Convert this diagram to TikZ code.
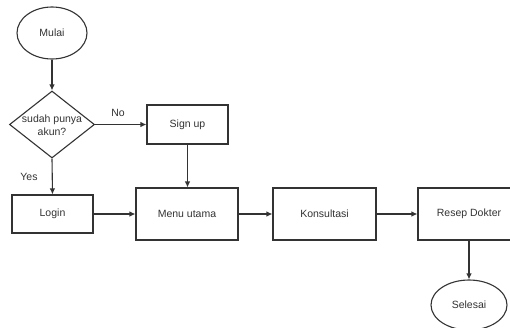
\documentclass[tikz,border=0pt]{standalone}
\usepackage{fontspec}
\setmainfont{Liberation Sans}
\usetikzlibrary{shapes.geometric,arrows.meta}
\definecolor{ink}{HTML}{333333}
\begin{document}
\begin{tikzpicture}[x=1pt,y=-1pt,
  every node/.style={font=\fontsize{10.5}{13.5}\selectfont, text=ink},
  proc/.style={draw=ink, line width=1.1pt, rectangle, inner sep=0pt},
  term/.style={draw=ink, line width=1.1pt, ellipse, inner sep=0pt},
  decide/.style={draw=ink, line width=1.1pt, diamond, inner sep=0pt, align=center},
  flow/.style={draw=ink, line width=1.1pt, -{Latex[length=6pt,width=5.5pt]}},
  lbl/.style={inner sep=0pt}]
  \useasboundingbox (0,0) rectangle (510,327);
  \clip (0,0) rectangle (510,327);
  \fill[white] (0,0) rectangle (510,327);

  % terminals
  \node[term, minimum width=70, minimum height=52] (mulai) at (52,33) {Mulai};
  \node[term, minimum width=76, minimum height=50] (selesai) at (469,305) {Selesai};

  % decision
  \node[decide, minimum width=85, minimum height=67] (akun) at (52,124.5) {};
  \node[align=center, inner sep=0pt] (akuntxt) at (52,125) {sudah punya\\akun?};

  % process boxes
  \node[proc, minimum width=81, minimum height=39] (signup) at (187.5,124.5) {Sign up};
  \node[proc, minimum width=81, minimum height=38] (login) at (52.5,214) {Login};
  \node[proc, minimum width=102, minimum height=52] (menu) at (187,214) {Menu utama};
  \node[proc, minimum width=103, minimum height=52] (konsul) at (324.5,214) {Konsultasi};
  \node[proc, minimum width=102, minimum height=52] (resep) at (469,214) {Resep Dokter};

  % connectors
  \draw[flow] (mulai) -- (akun);
  \draw[flow] (akun.east) -- (signup.west);
  \draw[flow] (akun.south) -- (login.north);
  \draw[flow] (signup.south) -- (signup.south |- menu.north);
  \draw[flow] (login) -- (menu);
  \draw[flow] (menu) -- (konsul);
  \draw[flow] (konsul) -- (resep);
  \draw[flow] (resep) -- (selesai);

  % branch labels
  \node[lbl] (no) at (118,113) {No};
  \node[lbl] (yes) at (29,177) {Yes};
\end{tikzpicture}
\end{document}
